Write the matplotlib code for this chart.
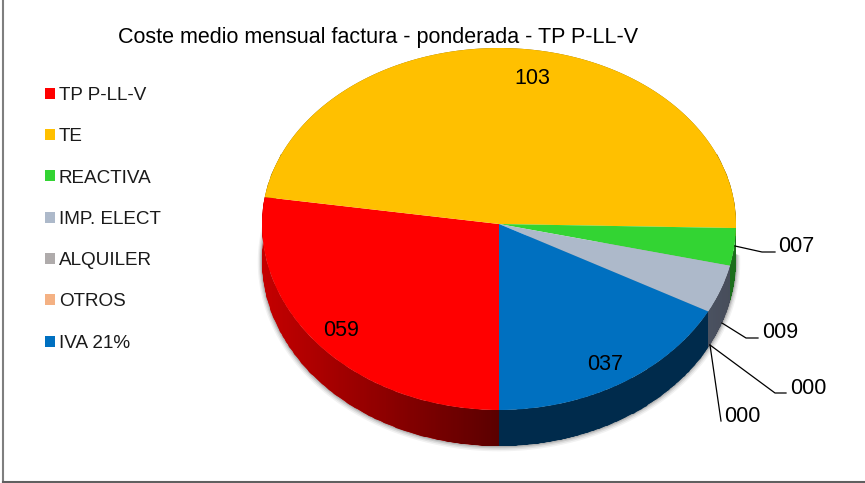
import numpy as np
import matplotlib
matplotlib.use("Agg")
import matplotlib.pyplot as plt
from matplotlib.colors import LinearSegmentedColormap
from matplotlib.lines import Line2D

plt.rcParams['font.family'] = ['Liberation Sans', 'DejaVu Sans']

title = "Coste medio mensual factura - ponderada - TP P-LL-V"
categories = ["TP P-LL-V", "TE", "REACTIVA", "IMP. ELECT", "ALQUILER", "OTROS", "IVA 21%"]
values = [59, 103, 7, 9, 0, 0, 37]
colors = ["#FF0000", "#FFC000", "#33D433", "#ADB9CA", "#AFABAB", "#F4B183", "#0070C0"]
side_left = ["#C40000", "#8A6A00", "#1C6E1C", "#4A5160", "#555555", "#7A5A40", "#002B4C"]
side_right = ["#5A0000", "#8A6A00", "#1C6E1C", "#474D5A", "#555555", "#7A5A40", "#002B4C"]

W, H = 865, 483
CX, CY, RX, RY_UP, RY_DOWN, DEPTH = 499, 224, 237, 176, 186, 36

fig = plt.figure(figsize=(W / 100, H / 100), dpi=100, facecolor="white")
ax = fig.add_axes([0, 0, 1, 1])


def fwd(y):
    y = np.asarray(y, dtype=float)
    return np.where(y < 0, y * RY_DOWN, y * RY_UP)


def inv(v):
    v = np.asarray(v, dtype=float)
    return np.where(v < 0, v / RY_DOWN, v / RY_UP)


ax.set_yscale("function", functions=(fwd, inv))
wedges, _ = ax.pie(values, colors=colors, startangle=270, counterclock=False, radius=1,
                   wedgeprops=dict(linewidth=0))
ax.set_aspect("auto")
ax.axis("off")
for w in wedges:
    w.set_zorder(5)

d = DEPTH / RY_DOWN

# soft shadow under the pie edge
th_all = np.radians(np.linspace(165, 362, 300))
for e, a in [(0.018, 0.05), (0.013, 0.07), (0.008, 0.10), (0.004, 0.12)]:
    ax.fill((1 + e) * np.cos(th_all), (1 + e) * np.sin(th_all) - d - e * 0.6,
            color="black", alpha=a, lw=0, zorder=1)

# side wall of each slice
angle = 270.0
total = sum(values)
xg = np.linspace(-1.02, 1.02, 260)
yg = np.array([-1.4, 0.4])
for v, cl, cr in zip(values, side_left, side_right):
    sweep = 360.0 * v / total
    a0, a1 = angle, angle - sweep
    angle = a1
    if v == 0:
        continue
    th = np.radians(np.linspace(a0, a1, 120))
    xs = np.cos(th)
    ys = np.sin(th)
    poly_x = np.r_[xs, xs[::-1]]
    poly_y = np.r_[ys, ys[::-1] - d]
    poly = ax.fill(poly_x, poly_y, color=cl, lw=0, zorder=2)[0]
    x0, x1 = xs.min(), xs.max()
    cmap = LinearSegmentedColormap.from_list("s", [cl, cr])
    z = np.clip((xg[:-1] - x0) / max(x1 - x0, 1e-6), 0, 1)[None, :]
    mesh = ax.pcolormesh(xg, yg, z, cmap=cmap, vmin=0, vmax=1, shading="flat", zorder=3)
    mesh.set_clip_path(poly)

ax.set_xlim(-CX / RX, (W - CX) / RX)
ax.set_ylim((CY - H) / RY_DOWN, CY / RY_UP)


def px(x, y):
    return x / W, 1 - y / H


fs_lab = 15.5
# labels placed inside slices
for idx, (x, y) in {1: (532, 78), 0: (341, 330), 6: (605, 364)}.items():
    fig.text(*px(x, y), f"{values[idx]:03d}", ha="center", va="center", fontsize=fs_lab,
             color="black", zorder=10)

# labels with leader lines
leaders = {
    2: ([(735, 246), (762, 252), (775, 252)], (778.5, 247)),
    3: ([(722, 323), (746, 338), (758, 338)], (762, 332.5)),
    4: ([(710, 345), (775, 393), (786, 393)], (790.5, 388.5)),
    5: ([(710, 345), (721, 421)], (724.5, 416.5)),
}
for idx, (pts, (tx, ty)) in leaders.items():
    xy = [px(*p) for p in pts]
    fig.add_artist(Line2D([p[0] for p in xy], [p[1] for p in xy], color="black", lw=0.9, zorder=10))
    fig.text(*px(tx, ty), f"{values[idx]:03d}", ha="left", va="center", fontsize=fs_lab,
             color="black", zorder=10)

fig.text(*px(378, 37), title, ha="center", va="center", fontsize=15.5, color="black", zorder=10)

fs_leg = 13.6
em = fs_leg * 100 / 72
fig.legend(wedges, categories, loc="upper left", bbox_to_anchor=px(45, 87), borderaxespad=0, borderpad=0,
           frameon=False, fontsize=fs_leg, labelcolor="#1a1a1a", handlelength=10 / em, handleheight=10 / em,
           handletextpad=4 / em, labelspacing=(40.7 - 16.4) / em)

# outer frame
fig.add_artist(Line2D(*zip(px(3, 0), px(3, 482)), color="#7f7f7f", lw=1.5))
fig.add_artist(Line2D(*zip(px(3, 481.5), px(865, 481.5)), color="#606060", lw=1.5))

fig.savefig("out.png", dpi=100)
